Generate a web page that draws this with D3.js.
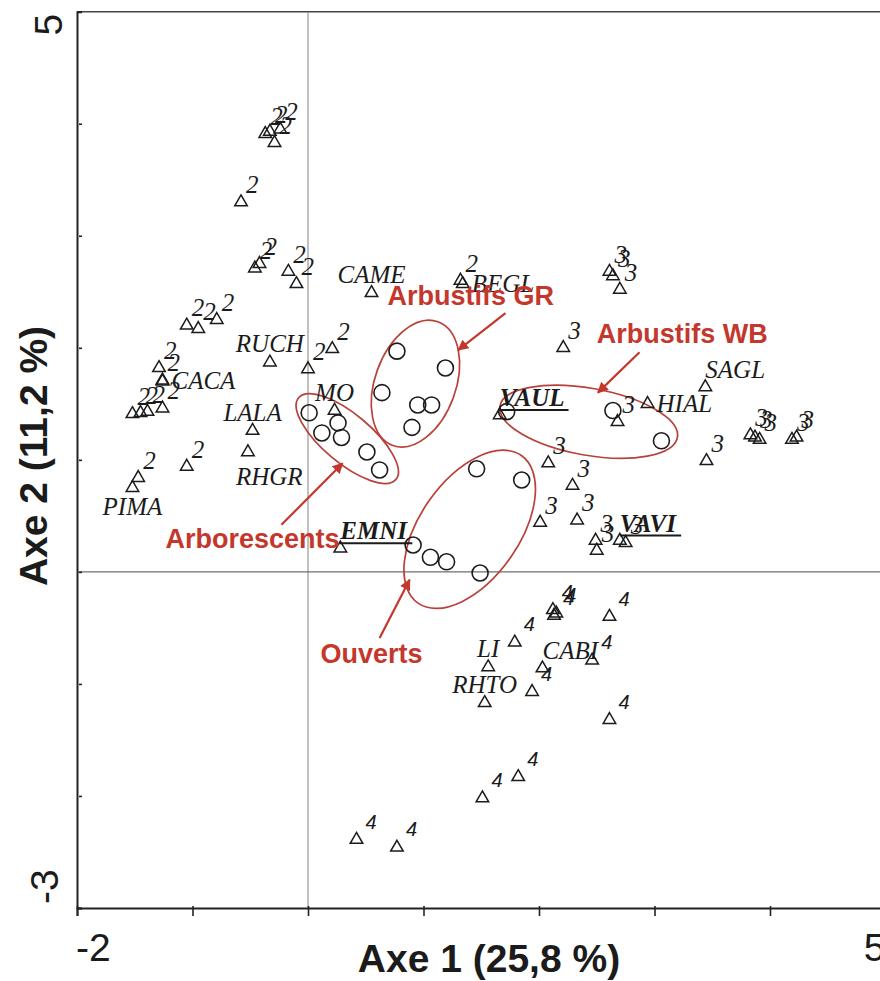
<!DOCTYPE html>
<html>
<head>
<meta charset="utf-8">
<script src="https://cdn.jsdelivr.net/npm/d3@7"></script>
<style>
  html, body { margin: 0; padding: 0; background: #fff; overflow: hidden; }
  svg { display: block; }
</style>
</head>
<body>
<svg id="chart" width="880" height="981"></svg>
<script>
// ---- Ordination scores (axes 1 and 2) ----

// Relevés, group 2
const releves2 = [
  [-0.37, 3.91], [-0.33, 3.93], [-0.24, 3.95], [-0.29, 3.83], [-0.58, 3.30],
  [-0.46, 2.71], [-0.42, 2.75], [-0.17, 2.68], [-0.10, 2.57], [1.32, 2.60],
  [-1.05, 2.20], [-0.95, 2.17], [-0.79, 2.25], [-1.29, 1.82], [-1.26, 1.71],
  [-1.52, 1.41], [-1.45, 1.42], [-1.39, 1.43], [-1.26, 1.46], [-1.05, 0.94],
  [-1.47, 0.84], [0.00, 1.81], [0.21, 1.99]
];

// Relevés, group 3
const releves3 = [
  [2.61, 2.68], [2.64, 2.64], [2.70, 2.52], [2.21, 2.00], [2.68, 1.34],
  [3.83, 1.22], [3.87, 1.20], [3.91, 1.18], [4.19, 1.18], [4.23, 1.20],
  [3.45, 0.99], [2.08, 0.97], [2.29, 0.77], [2.01, 0.44], [2.33, 0.46],
  [2.49, 0.28], [2.50, 0.19], [2.75, 0.26]
];

// Relevés, group 4
const releves4 = [
  [2.12, -0.34], [2.15, -0.37], [2.13, -0.39], [2.61, -0.40], [1.79, -0.63],
  [2.46, -0.79], [1.94, -1.07], [2.61, -1.32], [0.42, -2.39], [0.77, -2.46],
  [1.51, -2.02], [1.82, -1.83]
];

// Species (code, axis 1, axis 2)
const especes = [
  ["CAME", 0.55, 2.49], ["BEGL", 1.34, 2.57], ["RUCH", -0.33, 1.87],
  ["LALA", -0.48, 1.26], ["RHGR", -0.52, 1.07], ["CACA", -1.26, 1.70],
  ["PIMA", -1.52, 0.75], ["MO", 0.23, 1.44], ["EMNI", 0.28, 0.21],
  ["VAUL", 1.66, 1.40], ["HIAL", 2.94, 1.50], ["SAGL", 3.44, 1.65],
  ["VAVI", 2.70, 0.28], ["LI", 1.56, -0.85], ["CABI", 2.03, -0.86],
  ["RHTO", 1.53, -1.17]
];
// Species shown in bold and underlined
const especesMarquees = ["EMNI", "VAUL", "VAVI"];

// Sites by habitat type
const sitesArborescents = [[0.01, 1.42], [0.12, 1.24], [0.26, 1.33], [0.29, 1.20], [0.51, 1.07], [0.62, 0.91]];
const sitesArbustifsGR = [[0.77, 1.97], [1.19, 1.82], [0.64, 1.60], [0.95, 1.49], [1.07, 1.49], [0.90, 1.29]];
const sitesArbustifsWB = [[1.72, 1.43], [2.64, 1.44], [3.06, 1.17]];
const sitesOuverts = [[1.46, 0.92], [1.85, 0.82], [0.91, 0.24], [1.06, 0.13], [1.20, 0.09], [1.49, -0.01]];

// Habitat envelopes: centre, semi-axes (axis-1 units), rotation in degrees
const enveloppes = [
  { nom: "Arborescents", cx: 0.34, cy: 1.19, a: 0.55, b: 0.21, rot: 40 },
  { nom: "Arbustifs GR", cx: 0.93, cy: 1.68, a: 0.57, b: 0.35, rot: -70 },
  { nom: "Arbustifs WB", cx: 2.43, cy: 1.34, a: 0.78, b: 0.29, rot: 10 },
  { nom: "Ouverts", cx: 1.40, cy: 0.38, a: 0.78, b: 0.43, rot: -55 }
];

// Habitat captions and their pointers (axis units)
const legendes = [
  { texte: "Arbustifs GR", x: 1.41, y: 2.38, from: [1.71, 2.31], to: [1.30, 1.98] },
  { texte: "Arbustifs WB", x: 3.24, y: 2.04, from: [2.87, 1.96], to: [2.51, 1.60] },
  { texte: "Arborescents", x: -0.48, y: 0.21, from: [-0.23, 0.42], to: [0.30, 0.97] },
  { texte: "Ouverts", x: 0.55, y: -0.81, from: [0.62, -0.59], to: [0.88, -0.07] }
];

const axisTicksX = [-2, -1, 0, 1, 2, 3, 4, 5];
const axisTicksY = [-3, -2, -1, 0, 1, 2, 3, 4, 5];
const titreX = "Axe 1 (25,8 %)";
const titreY = "Axe 2 (11,2 %)";

// ---- Drawing ----
const svg = d3.select("#chart");
const x = d3.scaleLinear().domain([-2, 5]).range([77, 885.5]);
const y = d3.scaleLinear().domain([-3, 5]).range([908, 11.7]);
const kx = x(1) - x(0);

const RED = "#c4372c";
const INK = "#1b1b1b";

// frame top edge
svg.append("line")
  .attr("x1", x(-2)).attr("x2", x(5)).attr("y1", y(5)).attr("y2", y(5))
  .attr("stroke", "#444").attr("stroke-width", 1.5);

// zero reference lines
svg.append("line")
  .attr("x1", x(0)).attr("x2", x(0)).attr("y1", y(5)).attr("y2", y(-3))
  .attr("stroke", "#8c8c8c").attr("stroke-width", 1.1);
svg.append("line")
  .attr("x1", x(-2)).attr("x2", x(5)).attr("y1", y(0)).attr("y2", y(0))
  .attr("stroke", "#6e6e6e").attr("stroke-width", 1.1);

// axes
const gx = svg.append("g").attr("transform", `translate(0,${y(-3)})`)
  .call(d3.axisBottom(x).tickValues(axisTicksX).tickSize(8).tickFormat(""));
gx.select(".domain").attr("stroke", "#222").attr("stroke-width", 2);
gx.selectAll(".tick line").attr("stroke", "#222").attr("stroke-width", 1.6).attr("y1", -2);

const gy = svg.append("g").attr("transform", `translate(${x(-2)},0)`)
  .call(d3.axisLeft(y).tickValues(axisTicksY).tickSize(-5).tickFormat(""));
gy.select(".domain").attr("stroke", "#222").attr("stroke-width", 2);
gy.selectAll(".tick line").attr("stroke", "#222").attr("stroke-width", 1.6).attr("x1", 2);

// end tick labels
const tickFont = "'Liberation Sans', Arial, sans-serif";
function tickLabel(txt) {
  return svg.append("text").text(txt)
    .attr("font-family", tickFont).attr("font-size", 39).attr("fill", INK);
}
tickLabel(String(axisTicksX[0]))
  .attr("x", x(axisTicksX[0]) - 1).attr("y", 961);
tickLabel(String(axisTicksX[axisTicksX.length - 1]))
  .attr("x", x(axisTicksX[axisTicksX.length - 1])).attr("y", 961)
  .attr("text-anchor", "end");
tickLabel(String(axisTicksY[axisTicksY.length - 1]))
  .attr("transform", `translate(62,${y(5) + 2}) rotate(-90)`)
  .attr("text-anchor", "end");
tickLabel(String(axisTicksY[0]))
  .attr("transform", `translate(58,${y(-3) - 4}) rotate(-90)`)
  .attr("text-anchor", "start");

// axis titles
svg.append("text").text(titreX)
  .attr("x", 489).attr("y", 972).attr("text-anchor", "middle")
  .attr("font-family", tickFont).attr("font-weight", "bold").attr("font-size", 39)
  .attr("fill", INK);
svg.append("text").text(titreY)
  .attr("transform", `translate(47,${456}) rotate(-90)`).attr("text-anchor", "middle")
  .attr("font-family", tickFont).attr("font-weight", "bold").attr("font-size", 39)
  .attr("fill", INK);

// habitat envelopes
svg.append("g").selectAll("ellipse").data(enveloppes).join("ellipse")
  .attr("transform", d => `translate(${x(d.cx)},${y(d.cy)}) rotate(${d.rot})`)
  .attr("rx", d => d.a * kx).attr("ry", d => d.b * kx)
  .attr("fill", "none").attr("stroke", "#b8413a").attr("stroke-width", 1.7);

// sites
const sites = [].concat(sitesArborescents, sitesArbustifsGR, sitesArbustifsWB, sitesOuverts);
svg.append("g").selectAll("circle").data(sites).join("circle")
  .attr("cx", d => x(d[0])).attr("cy", d => y(d[1])).attr("r", 8)
  .attr("fill", "none").attr("stroke", INK).attr("stroke-width", 1.6);

// relevés and species markers
const tri = d3.symbol().type(d3.symbolTriangle).size(68);
function drawTriangles(data, get) {
  svg.append("g").selectAll("path").data(data).join("path")
    .attr("d", tri)
    .attr("transform", d => `translate(${x(get(d)[0])},${y(get(d)[1])})`)
    .attr("fill", "none").attr("stroke", INK).attr("stroke-width", 1.5);
}
drawTriangles(releves2, d => d);
drawTriangles(releves3, d => d);
drawTriangles(releves4, d => d);
drawTriangles(especes, d => [d[1], d[2]]);

// group numbers
const serif = "'Liberation Serif', 'Times New Roman', serif";
function drawNumbers(data, label, font, size, dx, dy) {
  svg.append("g").selectAll("text").data(data).join("text")
    .text(label)
    .attr("x", d => x(d[0]) + dx).attr("y", d => y(d[1]) + dy)
    .attr("font-family", font).attr("font-style", "italic").attr("font-size", size)
    .attr("fill", INK);
}
drawNumbers(releves2, "2", serif, 25, 5, -9);
drawNumbers(releves3, "3", serif, 25, 5, -9);
drawNumbers(releves4, "4", tickFont, 20, 9, -11);

// species codes
const cote = {
  CAME: "n", BEGL: "e", RUCH: "n", LALA: "n", RHGR: "se", CACA: "e", PIMA: "s",
  MO: "n", EMNI: "ne", VAUL: "ne", HIAL: "e", SAGL: "ne", VAVI: "ne", LI: "n",
  CABI: "ne", RHTO: "n"
};
const decal = {
  n: { anchor: "middle", dx: 0, dy: -10 },
  s: { anchor: "middle", dx: 0, dy: 27 },
  se: { anchor: "start", dx: -12, dy: 33 },
  e: { anchor: "start", dx: 9, dy: 8 },
  ne: { anchor: "start", dx: 0, dy: -9 }
};
const gEsp = svg.append("g");
especes.forEach(([code, ex, ey]) => {
  const p = decal[cote[code]];
  const marque = especesMarquees.includes(code);
  const t = gEsp.append("text").text(code)
    .attr("x", x(ex) + p.dx).attr("y", y(ey) + p.dy)
    .attr("text-anchor", p.anchor)
    .attr("font-family", serif).attr("font-style", "italic")
    .attr("font-weight", marque ? "bold" : "normal")
    .attr("font-size", 25).attr("fill", INK);
  if (marque) {
    const bb = t.node().getBBox();
    gEsp.append("line")
      .attr("x1", bb.x).attr("x2", bb.x + bb.width + 4)
      .attr("y1", y(ey) + p.dy + 4).attr("y2", y(ey) + p.dy + 4)
      .attr("stroke", INK).attr("stroke-width", 2);
  }
});

// habitat captions with arrows
const defs = svg.append("defs");
defs.append("marker").attr("id", "tete")
  .attr("viewBox", "0 0 10 10").attr("refX", 9).attr("refY", 5)
  .attr("markerWidth", 5).attr("markerHeight", 5).attr("orient", "auto")
  .attr("markerUnits", "strokeWidth")
  .append("path").attr("d", "M0,0 L10,5 L0,10 Z").attr("fill", RED);

const gLeg = svg.append("g");
gLeg.selectAll("line").data(legendes).join("line")
  .attr("x1", d => x(d.from[0])).attr("y1", d => y(d.from[1]))
  .attr("x2", d => x(d.to[0])).attr("y2", d => y(d.to[1]))
  .attr("stroke", RED).attr("stroke-width", 2.2)
  .attr("marker-end", "url(#tete)");
gLeg.selectAll("text").data(legendes).join("text")
  .text(d => d.texte)
  .attr("x", d => x(d.x)).attr("y", d => y(d.y))
  .attr("text-anchor", "middle")
  .attr("font-family", tickFont).attr("font-weight", "bold").attr("font-size", 27)
  .attr("fill", RED);
</script>
</body>
</html>
